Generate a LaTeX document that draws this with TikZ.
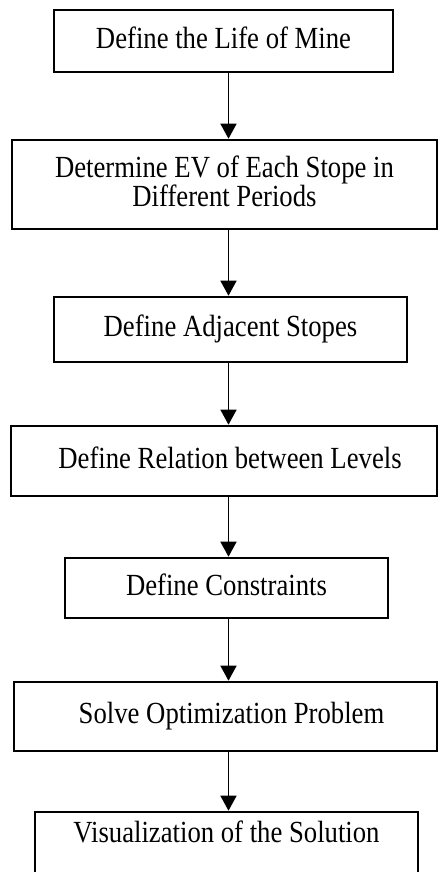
\documentclass[tikz,border=0pt]{standalone}
\usepackage{fontspec}
\setmainfont{Liberation Serif}
\usetikzlibrary{arrows.meta}
% text set a little taller than wide
\newcommand{\tallbox}[1]{\scalebox{1}[1.15]{\begin{tabular}{@{}c@{}}#1\end{tabular}}}
\begin{document}
\begin{tikzpicture}[x=1pt,y=-1pt,
  stepbox/.style={draw, line width=2.6pt, inner sep=0pt,
    font=\fontsize{26.7}{21.7}\selectfont},
  flow/.style={line width=1.5pt, -{Triangle[width=16pt,length=15pt]}}]
\useasboundingbox (0,0) rectangle (439,872);
\clip (0,0) rectangle (439,872);
\coordinate (ax) at (228.5,0);
\node[stepbox, minimum width=339pt, minimum height=62pt] (b1) at (223.5,41) {\tallbox{Define the Life of Mine}};
\node[stepbox, minimum width=425pt, minimum height=89pt] (b2) at (224.5,184.5) {\tallbox{Determine EV of Each Stope in\\Different Periods}};
\node[stepbox, minimum width=353pt, minimum height=65pt] (b3) at (230.5,329.5) {\tallbox{Define Adjacent Stopes}};
\node[stepbox, minimum width=426pt, minimum height=70pt] (b4) at (224,461) {\hspace*{12pt}\tallbox{Define Relation between Levels}};
\node[stepbox, minimum width=323pt, minimum height=60pt] (b5) at (226.5,588) {\tallbox{Define Constraints}};
\node[stepbox, minimum width=423pt, minimum height=69pt] (b6) at (225.5,716.5) {\hspace*{12pt}\tallbox{Solve Optimization Problem}};
\node[stepbox, minimum width=383pt, minimum height=73pt, text height=18pt, text depth=29pt] (b7) at (226.5,848.5) {\tallbox{Visualization of the Solution}};
\draw[flow] (b1.south -| ax) -- (b2.north -| ax);
\draw[flow] (b2.south -| ax) -- (b3.north -| ax);
\draw[flow] (b3.south -| ax) -- (b4.north -| ax);
\draw[flow] (b4.south -| ax) -- (b5.north -| ax);
\draw[flow] (b5.south -| ax) -- (b6.north -| ax);
\draw[flow] (b6.south -| ax) -- (b7.north -| ax);
\end{tikzpicture}
\end{document}
